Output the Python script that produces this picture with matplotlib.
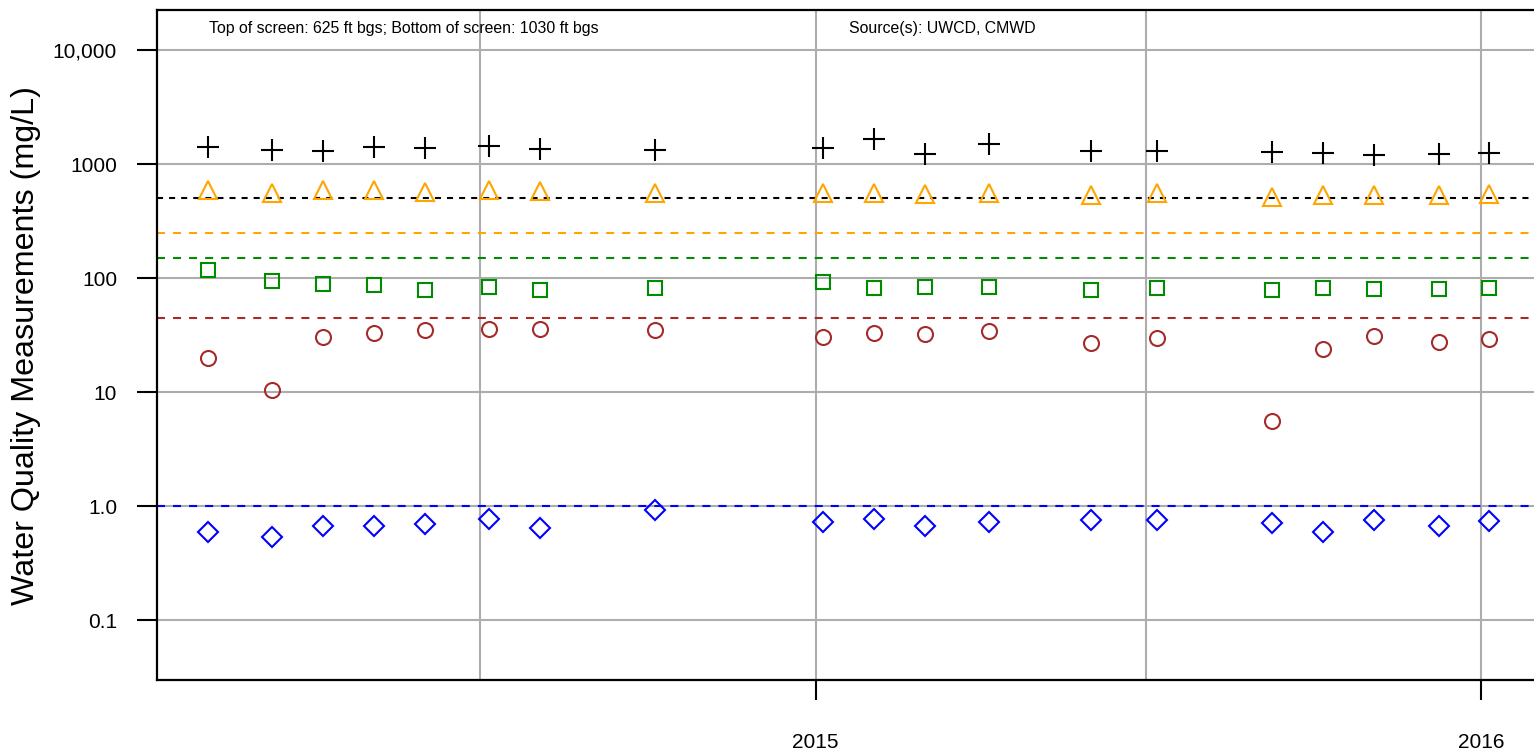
import matplotlib
matplotlib.use('Agg')
import matplotlib.pyplot as plt
import pandas as pd
from matplotlib.ticker import NullLocator

plt.rcParams['font.family'] = ['Liberation Sans', 'DejaVu Sans']

# ---- data ----
sample_dates = ['2014-02-02', '2014-03-09', '2014-04-06', '2014-05-04', '2014-06-01',
                '2014-07-06', '2014-08-03', '2014-10-05', '2015-01-05', '2015-02-02',
                '2015-03-02', '2015-04-06', '2015-06-01', '2015-07-07', '2015-09-08',
                '2015-10-06', '2015-11-03', '2015-12-09', '2016-01-05']
tds = [1418, 1327, 1291, 1418, 1380, 1448, 1352, 1336, 1380, 1656,
       1232, 1487, 1291, 1309, 1265, 1256, 1191, 1232, 1248]
sulfate = [594, 552, 596, 592, 570, 594, 583, 561, 556, 559,
           548, 561, 535, 561, 515, 532, 535, 532, 541]
chloride = [118, 93.8, 88.8, 87.7, 78.8, 83.1, 78.8, 81.5, 91.4, 82.1,
            83.1, 83.1, 78.8, 82.1, 78.8, 82.1, 79.8, 79.8, 82.1]
nitrate = [19.9, 10.5, 30.3, 33.1, 34.7, 35.4, 35.4, 34.7, 30.3, 32.9,
           32.2, 34.0, 26.7, 29.5, 5.6, 23.7, 31.3, 27.6, 28.9]
boron = [0.588, 0.538, 0.668, 0.668, 0.695, 0.774, 0.637, 0.92, 0.724, 0.774,
         0.668, 0.724, 0.754, 0.758, 0.709, 0.588, 0.749, 0.668, 0.739]

limit_values = [500, 250, 150, 45, 1.0]
limit_colors = ['black', '#FFA500', '#008B00', '#A52A2A', '#0000FF']

y_ticks = [0.1, 1, 10, 100, 1000, 10000]
y_tick_labels = ['0.1', '1.0', '10', '100', '1000', '10,000']
x_tick_dates = ['2015-01-01', '2016-01-01']
x_tick_labels = ['2015', '2016']
grid_dates = ['2014-07-01', '2015-01-01', '2015-07-01', '2016-01-01']

top_note = 'Top of screen: 625 ft bgs; Bottom of screen: 1030 ft bgs'
source_note = 'Source(s): UWCD, CMWD'
y_label = 'Water Quality Measurements (mg/L)'

# ---- figure ----
W, H = 1534, 751
fig = plt.figure(figsize=(W / 100, H / 100), dpi=100)
ax = fig.add_axes([157 / W, 71 / H, 1381 / W, 670 / H])

dates = pd.to_datetime(sample_dates)
grid_c = '#ADADAD'

# grid
for d in grid_dates:
    ax.axvline(pd.Timestamp(d), color=grid_c, lw=1.5, zorder=1)
for yv in y_ticks:
    ax.axhline(yv, color=grid_c, lw=1.5, zorder=1)

# limit lines
for v, c in zip(limit_values, limit_colors):
    dash = (2.9, 2.9) if c == 'black' else (3.85, 3.85)
    ax.axhline(v, color=c, lw=1.5, dashes=dash, zorder=2)

mk = dict(linestyle='none', markerfacecolor='none', markeredgewidth=1.5, zorder=3)
ax.plot(dates, tds, marker='+', markersize=16, color='black', **mk)
ax.plot(dates, sulfate, marker='^', markersize=13.5, color='#FFA500',
        markeredgecolor='#FFA500', **mk)
ax.plot(dates, chloride, marker='s', markersize=10.5, color='#008B00',
        markeredgecolor='#008B00', **mk)
ax.plot(dates, nitrate, marker='o', markersize=10.8, color='#A52A2A',
        markeredgecolor='#A52A2A', **mk)
ax.plot(dates, boron, marker='D', markersize=10.6, color='#0000FF',
        markeredgecolor='#0000FF', **mk)

# axes
ax.set_yscale('log')
ax.set_ylim(0.0298, 22440)
ax.set_xlim(pd.Timestamp('2014-01-05'), pd.Timestamp('2016-02-01'))

ax.set_yticks(y_ticks)
ax.set_yticklabels(y_tick_labels)
ax.yaxis.set_minor_locator(NullLocator())
ax.set_xticks([pd.Timestamp(d) for d in x_tick_dates])
ax.set_xticklabels(x_tick_labels)
ax.xaxis.set_minor_locator(NullLocator())

ax.tick_params(axis='y', direction='out', length=14.4, width=1.5, pad=14.4,
               labelsize=15, colors='black')
ax.tick_params(axis='x', direction='out', length=14.4, width=1.5, pad=24,
               labelsize=15, colors='black')

for s in ['left', 'top', 'bottom']:
    ax.spines[s].set_linewidth(1.6)
    ax.spines[s].set_color('black')
ax.spines['right'].set_visible(False)

ax.text(0.0377, 0.9657, top_note, transform=ax.transAxes, fontsize=11.4,
        va='baseline', ha='left')
ax.text(0.5008, 0.9657, source_note, transform=ax.transAxes, fontsize=11.4,
        va='baseline', ha='left')

fig.text(26 / W, 1 - 346 / H, y_label, rotation=90, ha='center', va='center',
         fontsize=23.2)

fig.savefig('out.png', dpi=100)
